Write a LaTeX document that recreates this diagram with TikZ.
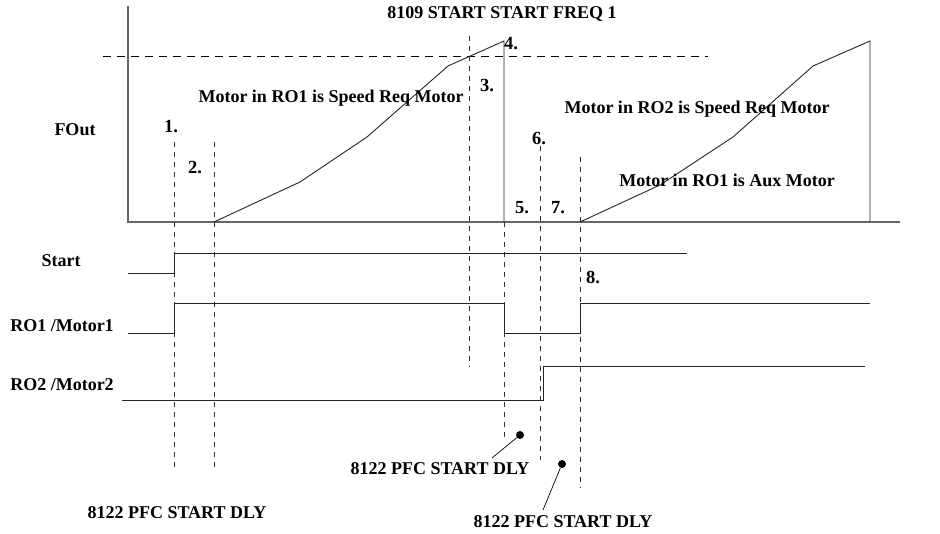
\documentclass[tikz,border=0pt]{standalone}
\usepackage{fontspec}
\setmainfont{Liberation Serif}
\usetikzlibrary{positioning}
\tikzset{
  axis/.style    = {draw=black!60, line width=1.3pt},
  sig/.style     = {draw=black!85, line width=0.9pt},
  guide/.style   = {draw=black!80, line width=0.8pt, dash pattern=on 5pt off 5pt},
  level/.style   = {draw=black, line width=0.8pt, dash pattern=on 8pt off 6pt},
  lbl/.style     = {font=\fontsize{18}{20}\selectfont\bfseries, inner sep=0pt, outer sep=0pt},
  stepnum/.style = {font=\fontsize{18.5}{20}\selectfont\bfseries, inner sep=0pt, outer sep=0pt},
  dot/.style     = {circle, fill=black, inner sep=0pt, minimum size=8pt},
  leader/.style  = {draw=black, line width=0.7pt},
}

\begin{document}
\begin{tikzpicture}[x=1pt,y=-1pt]
\path[use as bounding box, fill=white] (0,0) rectangle (940,534);

% ---- frequency plot -----------------------------------------------------
\draw[axis] (128,6) -- (128,222) -- (900,222);
\draw[level] (103,56) -- (708,56);
\node[lbl] (fout) at (75,130) {FOut};
\node[lbl] (freq) at (502,14) {8109 START START FREQ 1};

% guides
\draw[guide] (174,142) -- (174,470);
\draw[guide] (214,142) -- (214,470);
\draw[guide] (469,36) -- (469,367);
\draw[guide] (504,222) -- (504,438);
\draw[guide] (540,146) -- (540,460);
\draw[guide] (580,157) -- (580,488);

% ramps
\draw[sig] (214,222) -- (300,182) -- (367,137) -- (448,66) -- (504,41) -- (504,222);
\draw[sig] (580,222) -- (660,185) -- (733,137) -- (813,66) -- (870,41) -- (870,222);

\node[lbl] (spd1) at (331,98) {Motor in RO1 is Speed Req Motor};
\node[lbl] (spd2) at (697,109) {Motor in RO2 is Speed Req Motor};
\node[lbl] (aux1) at (727,180) {Motor in RO1 is Aux Motor};

\node[stepnum] (n1) at (171,127) {1.};
\node[stepnum] (n2) at (195,168) {2.};
\node[stepnum] (n3) at (487,86) {3.};
\node[stepnum] (n4) at (511,44) {4.};
\node[stepnum] (n5) at (522,208) {5.};
\node[stepnum] (n6) at (539,139) {6.};
\node[stepnum] (n7) at (558,208) {7.};
\node[stepnum] (n8) at (593,277) {8.};

% ---- relay signals ------------------------------------------------------
\node[lbl] (start) at (61,261) {Start};
\draw[sig] (128,273) -- (174,273) -- (174,253) -- (687,253);

\node[lbl] (ro1) at (62,326) {RO1 /Motor1};
\draw[sig] (128,333) -- (174,333) -- (174,303) -- (504,303) -- (504,333)
  -- (580,333) -- (580,303) -- (870,303);

\node[lbl] (ro2) at (62,385) {RO2 /Motor2};
\draw[sig] (122,400) -- (543,400) -- (543,366) -- (865,366);

% ---- delay labels -------------------------------------------------------
\node[lbl] (dlya) at (177,513) {8122 PFC START DLY};

\node[lbl] (dlyb) at (440,469) {8122 PFC START DLY};
\node[dot] (dotb) at (520,435) {};
\coordinate (tipb) at (492,458);
\draw[leader] (dotb) -- (tipb);

\node[lbl] (dlyc) at (563,522) {8122 PFC START DLY};
\node[dot] (dotc) at (562,464) {};
\coordinate (tipc) at (543,510);
\draw[leader] (dotc) -- (tipc);

\end{tikzpicture}
\end{document}
